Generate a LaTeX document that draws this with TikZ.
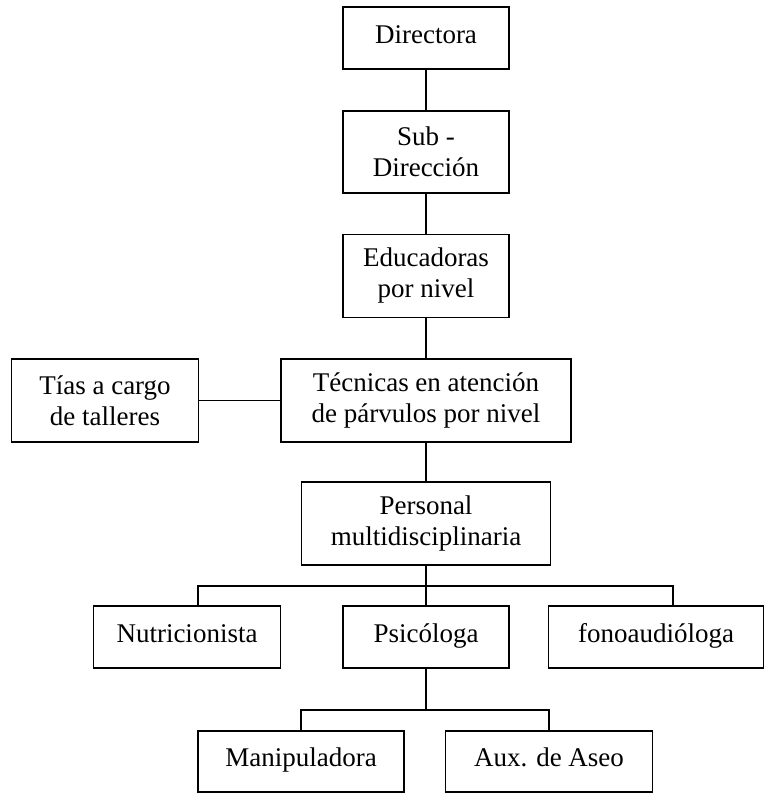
\documentclass[tikz,border=0pt]{standalone}
\usepackage{fontspec}
\setmainfont{Liberation Serif}
\usepackage{tikz}
\usetikzlibrary{positioning}

\tikzset{
    cargo/.style={draw, line width=1.3pt, align=center, inner sep=0pt,
        font=\fontsize{27}{31}\selectfont},
    unalinea/.style={text height=19pt, text depth=9pt},
    linea/.style={line width=1.3pt}
}

\begin{document}
\begin{tikzpicture}[x=1pt,y=-1pt]
        \useasboundingbox (0,0) rectangle (765,793);
        % cajas
        \node[cargo, unalinea, minimum width=166pt, minimum height=62pt] (dir) at (426,38) {Directora};
        \node[cargo, minimum width=166pt, minimum height=82pt] (sub) at (426,152) {Sub -\\Dirección};
        \node[cargo, minimum width=166pt, minimum height=83pt] (edu) at (426,276) {Educadoras\\por nivel};
        \node[cargo, minimum width=290pt, minimum height=83pt] (tec) at (426,400.5) {Técnicas en atención\\de párvulos por nivel};
        \node[cargo, minimum width=187pt, minimum height=83pt] (tias) at (105,400.5) {Tías a cargo\\de talleres};
        \node[cargo, minimum width=249pt, minimum height=83pt] (pers) at (426,523.5) {Personal\\multidisciplinaria};
        \node[cargo, unalinea, minimum width=187pt, minimum height=62pt] (nutri) at (187,637) {Nutricionista};
        \node[cargo, unalinea, minimum width=166pt, minimum height=62pt] (psic) at (426,637) {Psicóloga};
        \node[cargo, unalinea, minimum width=215pt, minimum height=62pt] (fono) at (656,637) {fonoaudióloga};
        \node[cargo, unalinea, minimum width=206pt, minimum height=61pt] (manip) at (301,761.5) {Manipuladora};
        \node[cargo, unalinea, minimum width=207pt, minimum height=61pt] (aux) at (549,761.5) {Aux. de Aseo};
        % lineas
        \draw[linea] (dir) -- (sub);
        \draw[linea] (sub) -- (edu);
        \draw[linea] (edu) -- (tec);
        \draw[linea] (tias) -- (tec);
        \draw[linea] (tec) -- (pers);
        \coordinate (bar1) at (426,586);
        \draw[linea] (pers.south) -- (bar1);
        \draw[linea] ([xshift=11pt]nutri.north) |- (bar1) -| ([xshift=17pt]fono.north);
        \draw[linea] (bar1) -- (psic.north);
        \coordinate (bar2) at (426,710);
        \draw[linea] (psic.south) -- (bar2);
        \draw[linea] (manip.north) |- (bar2) -| (aux.north);
    \end{tikzpicture}
\end{document}
